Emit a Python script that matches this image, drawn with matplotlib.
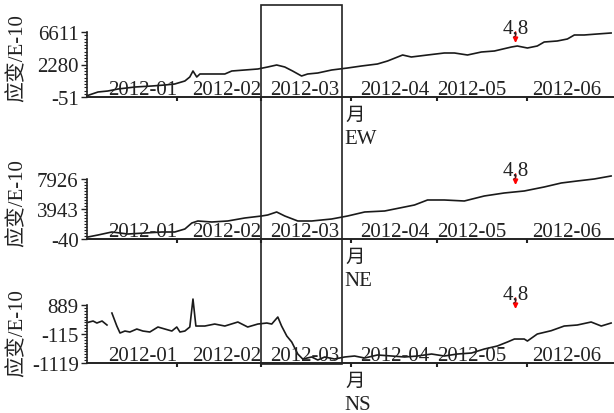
import numpy as np
import matplotlib
matplotlib.use('Agg')
import matplotlib.pyplot as plt
from matplotlib.patches import Rectangle
from matplotlib import transforms

plt.rcParams['font.family'] = ['Liberation Serif', 'Noto Sans CJK SC']

# ---------------- data (x = day of 2012, 0 = Jan 1) ----------------
ew_day = [0, 3.8, 7.2, 10.7, 16.6, 22.4, 26.9, 30.3, 33.8, 35.5,
          36.6, 37.9, 39, 43.1, 47.6, 50, 54.5, 59, 62.4, 65.5,
          68.3, 71, 74.1, 76.2, 79.7, 84.5, 90, 94.8, 100.3, 103.8,
          109, 112, 117.6, 123.4, 126.9, 131.4, 136.2, 140.7, 146.6, 148.6,
          152.1, 155.5, 157.9, 162.4, 165.9, 168.3, 171.7, 176.2, 181]
ew_val = [82, 462, 564, 769, 974, 1077, 1179, 1282, 1589, 1999,
          2614, 1999, 2307, 2307, 2307, 2614, 2717, 2819, 3024, 3229,
          3024, 2614, 2102, 2307, 2409, 2717, 2922, 3127, 3332, 3639,
          4254, 4049, 4254, 4459, 4459, 4254, 4561, 4664, 5074, 5176,
          4971, 5176, 5586, 5689, 5894, 6304, 6304, 6406, 6509]

ne_day = [0.3, 3.8, 8.6, 14.1, 20, 25.9, 30.3, 33.8, 36.2, 38.3,
          43.1, 48.6, 54.5, 60.3, 62.4, 65.5, 68.3, 72.8, 77.6, 84.5,
          90, 95.9, 102.8, 109.7, 113.1, 117.6, 123.4, 130.3, 137.2, 144.1,
          151, 157.9, 163.8, 169.3, 175.2, 181]
ne_val = [226, 491, 890, 624, 757, 890, 890, 1288, 2085, 2350,
          2218, 2350, 2749, 3014, 3147, 3546, 3014, 2350, 2350, 2616,
          3014, 3546, 3678, 4210, 4475, 5139, 5139, 5006, 5670, 6069,
          6334, 6866, 7397, 7662, 7928, 8326]

ns_day = [0.4, 2.1, 3.4, 5.2, 6.9, 7.7, 8.6, 10.3, 11.4, 13.1,
          14.8, 17.2, 19.3, 21.7, 24.5, 26.9, 29.3, 31, 32.1, 33.8,
          35.5, 36.6, 37.6, 40.7, 44.1, 47.6, 52.1, 55.5, 59, 62.1,
          63.8, 65.9, 67.2, 69, 70.7, 72.8, 74.5, 77.6, 79.7, 82.1,
          85.5, 89, 92.4, 95.9, 100.3, 105.2, 109.7, 114.1, 119, 123.4,
          127.9, 132.8, 137.2, 141.7, 145.2, 147.6, 151, 152.1, 155.5, 160.3,
          164.8, 169.3, 174.1, 177.6, 181]
ns_val = [289, 334, 265, 334, 196, np.nan, 611, 161, -81, -12,
          -46, 57, -12, -46, 127, 57, -12, 127, -46, -12,
          127, 1095, 161, 161, 230, 161, 300, 127, 230, 265,
          230, 473, 161, -185, -392, -808, -981, -911, -1015, -911,
          -981, -911, -877, -946, -842, -877, -911, -877, -808, -877,
          -808, -773, -635, -531, -392, -289, -289, -358, -116, -1,
          161, 196, 300, 161, 265]

ew_ticklabels = ['-51', '2280', '6611']
ne_ticklabels = ['-40', '3943', '7926']
ns_ticklabels = ['-1119', '-115', '889']
ew_range = (-51, 6611)
ne_range = (-40, 7926)
ns_range = (-1119, 889)

month_ticks = [31, 60, 91, 121, 152]
month_labels = ['2012-01', '2012-02', '2012-03', '2012-04', '2012-05', '2012-06']
month_label_pos = [19.1, 48.4, 75.2, 106.2, 132.8, 165.5]

event_day = 148
event_label = '4,8'
box_days = (60, 88)
unit_label = '月'
ylabel = '应变/E-10'

# ---------------- layout ----------------
W, H = 614, 414
fig = plt.figure(figsize=(W / 100, H / 100), dpi=100)
C = '#222222'

panels = [
    (ew_day, ew_val, ew_range, ew_ticklabels, 'EW', 98, 33, 58),
    (ne_day, ne_val, ne_range, ne_ticklabels, 'NE', 240, 180, 203),
    (ns_day, ns_val, ns_range, ns_ticklabels, 'NS', 364, 306, 333),
]

axes = []
for days, vals, (ymin, ymax), tlabels, name, bot, top, ylab_c in panels:
    axh = 80
    ax = fig.add_axes([87 / W, 1 - bot / H, 527 / W, axh / H])
    ax.patch.set_alpha(0)
    ax.plot(days, vals, color='#1a1a1a', lw=1.2, clip_on=False)
    ax.set_xlim(0, 182)
    scale = (ymax - ymin) / (bot - top)
    ax.set_ylim(ymin, ymin + scale * axh)
    for s in ('top', 'right'):
        ax.spines[s].set_visible(False)
    ax.spines['left'].set_bounds(ymin, ymax)
    ax.spines['left'].set_linewidth(1.2)
    ax.spines['bottom'].set_linewidth(1.4)
    ax.spines['left'].set_color(C)
    ax.spines['bottom'].set_color(C)
    ax.set_yticks(np.linspace(ymin, ymax, 3))
    ax.set_yticklabels(tlabels)
    ax.set_yticks(np.linspace(ymin, ymax, 21), minor=True)
    ax.set_xticks(month_ticks)
    ax.set_xticklabels([])
    ax.tick_params(axis='x', direction='out', length=3, width=1.5, color=C)
    ax.tick_params(axis='y', which='major', direction='out', length=4, width=1,
                   pad=2, labelsize=15, labelcolor=C, color=C)
    ax.tick_params(axis='y', which='minor', direction='out', length=2, width=0.8, color=C)

    for pos, lab in zip(month_label_pos, month_labels):
        ax.annotate(lab, xy=(pos, 0), xycoords=('data', 'axes fraction'),
                    xytext=(0, 3), textcoords='offset pixels',
                    ha='center', va='baseline', fontsize=15, color=C)
    ax.annotate(unit_label, xy=(89.3, 0), xycoords=('data', 'axes fraction'),
                xytext=(0, -17), textcoords='offset pixels',
                ha='left', va='center', fontsize=14, color=C,
                family=['Noto Sans CJK SC'])
    ax.annotate(name, xy=(89.0, 0), xycoords=('data', 'axes fraction'),
                xytext=(0, -42), textcoords='offset pixels',
                ha='left', va='center', fontsize=15, color=C)
    # event arrow + label
    ax.annotate('', xy=(event_day, 54 / axh), xytext=(event_day, 65 / axh),
                xycoords=('data', 'axes fraction'), textcoords=('data', 'axes fraction'),
                arrowprops=dict(arrowstyle='-|>', color='red', lw=1.2,
                                mutation_scale=7, shrinkA=0, shrinkB=0))
    ax.annotate(event_label, xy=(event_day, 69 / axh), xycoords=('data', 'axes fraction'),
                ha='center', va='center', fontsize=15, color=C)
    fig.text(18 / W, 1 - ylab_c / H, ylabel, rotation=90, ha='center', va='center',
             fontsize=15, color=C)
    axes.append(ax)

# highlight box spanning all panels
trans = transforms.blended_transform_factory(axes[2].transData, fig.transFigure)
rect = Rectangle((box_days[0], 1 - 365 / H), box_days[1] - box_days[0], (365 - 6) / H,
                 transform=trans, fill=False, lw=1.2, ec=C, clip_on=False)
fig.add_artist(rect)

fig.savefig('out.png', dpi=100)
